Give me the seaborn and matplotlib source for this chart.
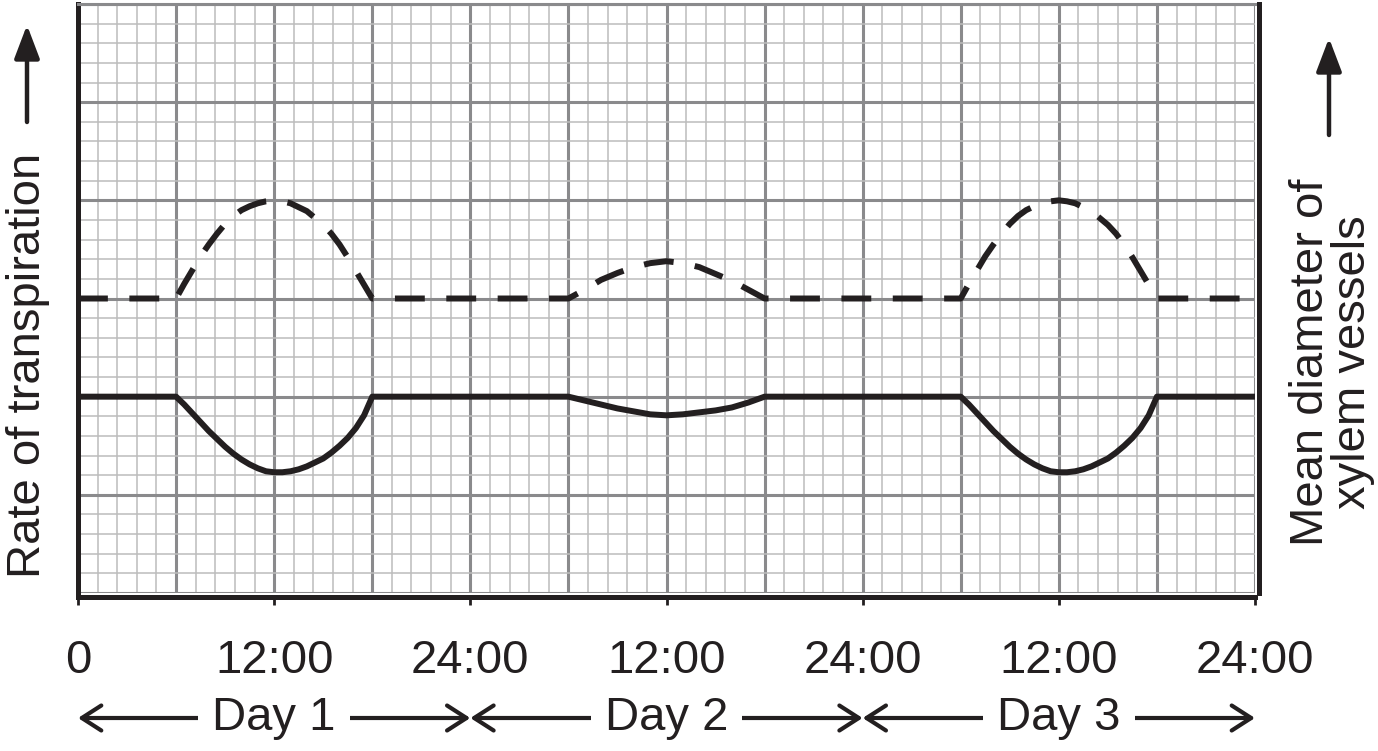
import numpy as np
import pandas as pd
import matplotlib
matplotlib.use('Agg')
import matplotlib.pyplot as plt
from matplotlib.ticker import MultipleLocator
import seaborn as sns

# Horas y valores (media hora en los dias 1 y 3)
horas_d1 = [0, 6, 6.5, 7, 7.5, 8, 8.5, 9, 9.5, 10, 10.5, 11, 11.5, 12,
            12.5, 13, 13.5, 14, 14.5, 15, 15.5, 16, 16.5, 17, 17.5, 18]
horas_d2 = [30, 31, 32, 33, 34, 35, 36, 37, 38, 39, 40, 41, 42]
horas_d3 = [54, 54.5, 55, 55.5, 56, 56.5, 57, 57.5, 58, 58.5, 59, 59.5, 60,
            60.5, 61, 61.5, 62, 62.5, 63, 63.5, 64, 64.5, 65, 65.5, 66, 72]
horas = horas_d1 + horas_d2 + horas_d3

transp_d1 = [3.0, 3.0, 3.15, 3.29, 3.43, 3.55, 3.66, 3.76, 3.84, 3.90, 3.94, 3.97, 3.99, 4.0,
             3.99, 3.97, 3.93, 3.89, 3.82, 3.75, 3.66, 3.55, 3.42, 3.28, 3.14, 3.0]
transp_d2 = [3.0, 3.09, 3.19, 3.26, 3.32, 3.36, 3.38, 3.36, 3.32, 3.25, 3.18, 3.09, 3.0]
transp_d3 = [3.0, 3.15, 3.29, 3.43, 3.55, 3.66, 3.76, 3.84, 3.90, 3.94, 3.97, 3.99, 4.0,
             3.99, 3.97, 3.93, 3.89, 3.82, 3.75, 3.66, 3.55, 3.42, 3.28, 3.14, 3.0, 3.0]
transpiracion = transp_d1 + transp_d2 + transp_d3

diam_d1 = [2.0, 2.0, 1.92, 1.83, 1.74, 1.65, 1.57, 1.49, 1.42, 1.36, 1.31, 1.27, 1.24, 1.23,
           1.23, 1.24, 1.26, 1.29, 1.33, 1.37, 1.43, 1.50, 1.58, 1.68, 1.81, 2.0]
diam_d2 = [2.0, 1.96, 1.92, 1.88, 1.85, 1.82, 1.81, 1.82, 1.84, 1.86, 1.89, 1.94, 2.0]
diam_d3 = [2.0, 1.92, 1.83, 1.74, 1.65, 1.57, 1.49, 1.42, 1.36, 1.31, 1.27, 1.24, 1.23,
           1.23, 1.24, 1.26, 1.29, 1.33, 1.37, 1.43, 1.50, 1.58, 1.68, 1.81, 2.0, 2.0]
diametro = diam_d1 + diam_d2 + diam_d3

ticks_x = [0, 12, 24, 36, 48, 60, 72]
etiquetas_x = ['0', '12:00', '24:00', '12:00', '24:00', '12:00', '24:00']
dias = ['Day 1', 'Day 2', 'Day 3']

NEGRO = '#231f20'
GRIS_MAYOR = '#8a8a8c'
GRIS_MENOR = '#bcbcbc'

sns.set_theme(style='white')
plt.rcParams['font.family'] = ['Liberation Sans', 'DejaVu Sans']

df = pd.DataFrame({
    'hora': horas * 2,
    'valor': transpiracion + diametro,
    'serie': ['transp'] * len(horas) + ['diam'] * len(horas),
})

fig = plt.figure(figsize=(13.78, 7.51), dpi=100)
ax = fig.add_axes([78 / 1378, 1 - 593 / 751, 1177 / 1378, 589 / 751])

sns.lineplot(data=df, x='hora', y='valor', style='serie',
             dashes={'transp': (5, 3.6), 'diam': ''},
             color=NEGRO, lw=4.3, legend=False, sort=False, ax=ax, zorder=5)
for linea in ax.lines:
    linea.set_solid_joinstyle('round')
    linea.set_dash_joinstyle('round')

ax.set_xlim(0, 72)
ax.set_ylim(0, 6)

# Papel milimetrado
ax.xaxis.set_major_locator(MultipleLocator(6))
ax.xaxis.set_minor_locator(MultipleLocator(1.2))
ax.yaxis.set_major_locator(MultipleLocator(1))
ax.yaxis.set_minor_locator(MultipleLocator(0.2))
ax.grid(which='minor', color=GRIS_MENOR, lw=1.1)
ax.grid(which='major', color=GRIS_MAYOR, lw=2.2)
ax.set_axisbelow(True)

ax.set_yticklabels([])
ax.tick_params(axis='y', which='both', length=0)
ax.tick_params(axis='x', which='both', length=0, labelbottom=False)
ax.set_xlabel('')
ax.set_ylabel('')

# Marcas del eje x cada 12 horas en un eje secundario (la rejilla sigue cada 6 h)
ax2 = ax.secondary_xaxis('bottom')
ax2.set_xticks(ticks_x)
ax2.set_xticklabels(etiquetas_x)
ax2.tick_params(axis='x', direction='out', length=6, width=2, color=NEGRO,
                pad=24, labelsize=34, labelcolor=NEGRO)
ax2.spines['bottom'].set_position(('outward', 3))
ax2.spines['bottom'].set_color(NEGRO)
ax2.spines['bottom'].set_linewidth(3.6)

for lado in ['left', 'right']:
    ax.spines[lado].set_visible(True)
    ax.spines[lado].set_color(NEGRO)
    ax.spines[lado].set_linewidth(3.6)
ax.spines['right'].set_position(('outward', 3))
ax.spines['bottom'].set_visible(False)
ax.spines['top'].set_color(GRIS_MAYOR)
ax.spines['top'].set_linewidth(2.2)

# Etiquetas de los ejes
fig.text(28 / 1378, 1 - 365 / 751, 'Rate of transpiration', rotation=90,
         fontsize=34, color=NEGRO, ha='center', va='center')
fig.text(1332 / 1378, 1 - 362 / 751, 'Mean diameter of\nxylem vessels', rotation=90,
         fontsize=34, color=NEGRO, ha='center', va='center', linespacing=0.95,
         multialignment='center')

flecha = dict(arrowstyle='-|>,head_length=1.45,head_width=0.55', lw=3.2,
              color=NEGRO, shrinkA=0, shrinkB=0, mutation_scale=14)
ax.annotate('', xy=(27, 751 - 25), xytext=(27, 751 - 122),
            xycoords='figure pixels', textcoords='figure pixels',
            arrowprops=flecha, annotation_clip=False)
ax.annotate('', xy=(1329, 751 - 38), xytext=(1329, 751 - 135),
            xycoords='figure pixels', textcoords='figure pixels',
            arrowprops=flecha, annotation_clip=False)

# Flechas de los dias
y_dia = 1 - 718 / 751
for i, dia in enumerate(dias):
    ini, fin = 24 * i, 24 * (i + 1)
    ax.annotate('', xy=(ini, y_dia), xytext=(fin, y_dia),
                xycoords=('data', 'figure fraction'),
                textcoords=('data', 'figure fraction'),
                arrowprops=dict(arrowstyle='<->,head_length=0.7,head_width=0.45',
                                lw=3, color=NEGRO, shrinkA=0, shrinkB=0,
                                mutation_scale=20),
                annotation_clip=False)
    ax.annotate(dia, xy=(ini + 12, y_dia), xycoords=('data', 'figure fraction'),
                fontsize=34, color=NEGRO, ha='center', va='center',
                bbox=dict(boxstyle='square,pad=0.3', fc='white', ec='none'),
                annotation_clip=False)

plt.savefig('out.png', dpi=100)
